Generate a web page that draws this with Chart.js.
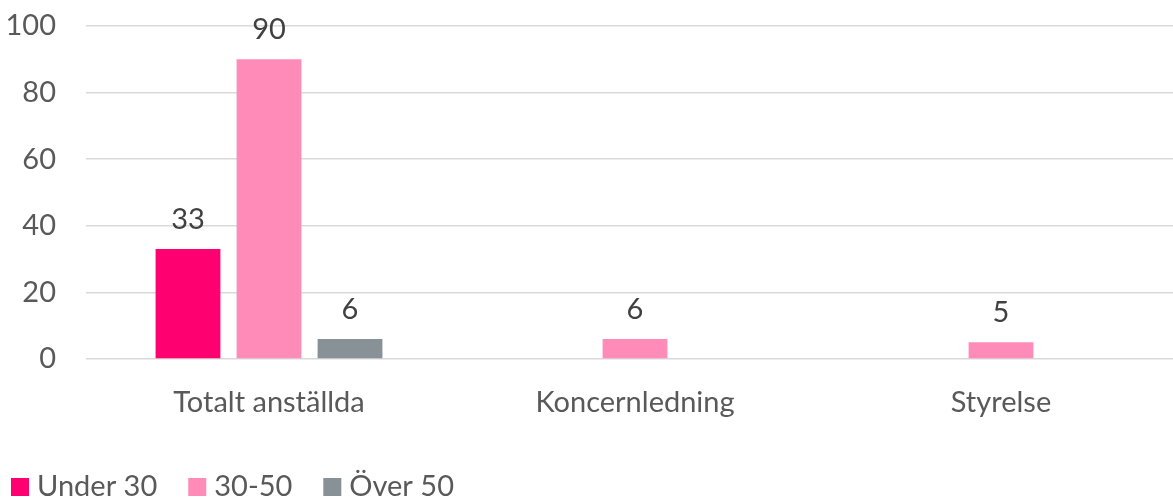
<!DOCTYPE html>
<html>
<head>
<meta charset="utf-8">
<script src="https://cdn.jsdelivr.net/npm/chart.js@4"></script>
<style>
  html, body { margin: 0; padding: 0; background: #fff; overflow: hidden; }
  /* plot runs a little past the right edge, like the cropped original */
  #wrap { width: 1184px; height: 497px; }
</style>
</head>
<body>
<div id="wrap"><canvas id="chart"></canvas></div>
<script>
const categories = ['Totalt anställda', 'Koncernledning', 'Styrelse'];
const under30 = [33, null, null];
const mid3050 = [90, 6, 5];
const over50 = [6, null, null];
const yTicks = [0, 20, 40, 60, 80, 100];

const font = 'Lato, "Open Sans", sans-serif';
const fontSize = 29;

// draws the value above each bar
const valueLabels = {
    id: 'valueLabels',
    afterDatasetsDraw(chart) {
        const ctx = chart.ctx;
        ctx.save();
        ctx.font = fontSize + 'px ' + font;
        ctx.fillStyle = '#404040';
        ctx.textAlign = 'center';
        ctx.textBaseline = 'alphabetic';
        chart.data.datasets.forEach((ds, i) => {
            const meta = chart.getDatasetMeta(i);
            meta.data.forEach((bar, j) => {
                const v = ds.data[j];
                if (v === null || v === undefined) return;
                ctx.fillText(String(v), bar.x, bar.y - 20);
            });
        });
        ctx.restore();
    }
};

// simple legend at the bottom left, Excel style
const bottomLegend = {
    id: 'bottomLegend',
    afterDraw(chart) {
        const ctx = chart.ctx;
        ctx.save();
        ctx.font = fontSize + 'px ' + font;
        ctx.textBaseline = 'alphabetic';
        ctx.textAlign = 'left';
        let x = 11;
        const base = 496;
        chart.data.datasets.forEach(ds => {
            ctx.fillStyle = ds.backgroundColor;
            ctx.fillRect(x, base - 18, 18, 18);
            ctx.fillStyle = '#595959';
            ctx.fillText(ds.label, x + 26, base);
            x += 26 + ctx.measureText(ds.label).width + 31;
        });
        ctx.restore();
    }
};

const ctx = document.getElementById('chart').getContext('2d');
new Chart(ctx, {
    type: 'bar',
    data: {
        labels: categories,
        datasets: [
            { label: 'Under 30', data: under30, backgroundColor: '#FF0070' },
            { label: '30-50', data: mid3050, backgroundColor: '#FF8BB8' },
            { label: 'Över 50', data: over50, backgroundColor: '#889196' }
        ]
    },
    options: {
        responsive: true,
        maintainAspectRatio: false,
        animation: false,
        layout: { padding: { left: 0, right: 0, top: 26, bottom: 55 } },
        datasets: {
            bar: { categoryPercentage: 0.664, barPercentage: 0.8 }
        },
        plugins: {
            legend: { display: false },
            tooltip: { enabled: false }
        },
        scales: {
            x: {
                grid: { display: false },
                border: { display: false },
                ticks: {
                    color: '#595959',
                    padding: 18,
                    font: { family: font, size: fontSize }
                },
                afterFit(scale) { scale.height = 83; }
            },
            y: {
                min: 0,
                max: 100,
                afterBuildTicks(scale) { scale.ticks = yTicks.map(v => ({ value: v })); },
                // invisible tick marks give the gap between labels and plot
                grid: { color: '#D9D9D9', lineWidth: 1.5, drawTicks: true, tickLength: 30, tickColor: 'rgba(0,0,0,0)' },
                border: { display: false },
                ticks: {
                    color: '#595959',
                    padding: 0,
                    font: { family: font, size: fontSize }
                },
                afterFit(scale) { scale.width = 86; }
            }
        }
    },
    plugins: [valueLabels, bottomLegend]
});
</script>
</body>
</html>
